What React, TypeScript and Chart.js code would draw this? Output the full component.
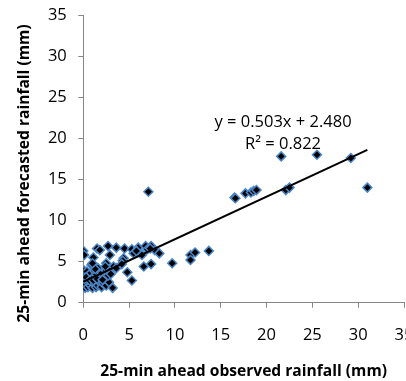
import React, { useEffect, useRef } from "react";
import { Chart, registerables } from "chart.js";

Chart.register(...registerables);

// ---- data ----
const observed = [
  0.0, 0.1, 0.2, 0.0, 0.3, 0.5, 0.6, 0.8, 1.0, 1.2, 1.4, 1.6, 1.8, 2.0, 2.2, 2.5, 2.8, 3.2,
  0.0, 0.2, 0.1, 0.4, 0.6, 0.8, 1.0, 1.2, 1.4, 1.6, 1.8, 2.0, 2.3, 2.5, 2.7, 3.0, 3.3, 3.6,
  0.9, 1.3, 0.5, 0.3, 0.7, 1.1, 1.5, 2.1,
  0.0, 0.1, 1.1, 1.5, 1.8, 2.7, 2.9, 3.6, 4.5, 4.4, 5.3, 5.5, 6.0, 6.4, 6.8, 7.0, 7.4, 7.8, 8.3, 7.3, 5.8,
  2.5, 1.0, 4.3, 4.2, 4.8, 5.3, 6.6, 7.4, 3.0, 2.4,
  7.1, 9.7, 11.7, 11.7, 12.2, 13.7, 16.5, 16.6, 17.7, 18.3, 18.6, 18.9, 21.6, 22.1, 22.5, 25.5, 29.2, 31.0,
];
const forecasted = [
  2.0, 2.3, 1.8, 2.6, 2.2, 1.9, 2.4, 2.1, 1.8, 2.3, 1.9, 2.1, 2.5, 1.9, 2.3, 2.1, 2.5, 1.8,
  3.0, 3.5, 3.9, 3.8, 3.2, 3.6, 3.0, 3.9, 3.4, 4.2, 3.1, 3.6, 3.0, 3.9, 3.3, 4.0, 4.4, 4.2,
  4.6, 4.1, 2.8, 3.1, 2.7, 2.7, 2.9, 2.8,
  6.3, 5.8, 5.5, 6.6, 6.4, 6.9, 5.8, 6.7, 6.6, 5.4, 6.5, 6.0, 6.7, 5.8, 6.9, 6.5, 6.9, 6.4, 6.0, 6.6, 6.3,
  4.8, 4.8, 5.1, 4.7, 3.7, 2.7, 4.4, 4.7, 3.5, 4.4,
  13.5, 4.8, 5.8, 5.2, 6.1, 6.3, 12.8, 12.7, 13.3, 13.4, 13.6, 13.7, 17.8, 13.7, 14.0, 18.0, 17.6, 14.0,
];
const trendX = [0, 31];
const trendY = [2.55, 18.6];
const axisMin = 0;
const axisMax = 35;
const axisStep = 5;
const equationLines = ["y = 0.503x + 2.480", "R² = 0.822"];
const equationAt = { x: 21.8, y: 22.0 };
const xTitle = "25-min ahead observed rainfall (mm)";
const yTitle = "25-min ahead forecasted rainfall (mm)";

const FONT = "'Open Sans', 'Liberation Sans', sans-serif";
const AXIS_GRAY = "#868686";

const overlayPlugin = {
  id: "overlayText",
  afterDraw(chart: any) {
    const { ctx, scales } = chart;
    const xs = scales.x;
    const ys = scales.y;
    ctx.save();
    ctx.fillStyle = "#000";
    ctx.font = `16.5px ${FONT}`;
    ctx.textAlign = "center";
    ctx.textBaseline = "middle";
    const px = xs.getPixelForValue(equationAt.x);
    const py = ys.getPixelForValue(equationAt.y);
    equationLines.forEach((t, i) => ctx.fillText(t, px, py + i * 22));
    // y title
    ctx.font = `bold 15.6px ${FONT}`;
    ctx.translate(25, 173.5);
    ctx.rotate(-Math.PI / 2);
    ctx.fillText(yTitle, 0, 0);
    ctx.restore();
  },
};

export default function App() {
  const ref = useRef<HTMLCanvasElement | null>(null);
  useEffect(() => {
    if (!ref.current) return;
    const points = observed.map((x, i) => ({ x, y: forecasted[i] }));
    const trend = trendX.map((x, i) => ({ x, y: trendY[i] }));
    const chart = new Chart(ref.current, {
      type: "scatter",
      data: {
        datasets: [
          {
            type: "line",
            data: trend,
            borderColor: "#000",
            borderWidth: 2,
            pointRadius: 0,
            fill: false,
            order: 0,
          } as any,
          {
            data: points,
            pointStyle: "rectRot",
            pointRadius: 4.5,
            pointBackgroundColor: "#000",
            pointBorderColor: "#4a86c8",
            pointBorderWidth: 1.5,
            order: 1,
          },
        ],
      },
      options: {
        animation: false,
        responsive: false,
        maintainAspectRatio: false,
        layout: { padding: 0 },
        plugins: { legend: { display: false }, tooltip: { enabled: false } },
        scales: {
          x: {
            type: "linear",
            min: axisMin,
            max: axisMax,
            ticks: { stepSize: axisStep, padding: 17.4, color: "#000", font: { family: FONT, size: 16.5 } },
            grid: { drawOnChartArea: false, drawTicks: true, tickLength: 5, color: AXIS_GRAY },
            border: { color: AXIS_GRAY, width: 1 },
            title: { display: true, text: xTitle, color: "#000", font: { family: FONT, size: 15.6, weight: "bold" }, padding: { top: 0, bottom: 0 } },
            afterFit(scale: any) {
              scale.height = 78.3;
              scale.paddingRight = 2.5;
              scale.paddingLeft = 0;
            },
          },
          y: {
            type: "linear",
            min: axisMin,
            max: axisMax,
            ticks: { stepSize: axisStep, padding: 11.5, color: "#000", font: { family: FONT, size: 16.5 } },
            grid: { drawOnChartArea: false, drawTicks: true, tickLength: 5, color: AXIS_GRAY },
            border: { color: AXIS_GRAY, width: 1 },
            afterFit(scale: any) {
              scale.width = 83.3;
              scale.paddingTop = 15;
              scale.paddingBottom = 0;
            },
          },
        },
      },
      plugins: [overlayPlugin],
    });
    return () => chart.destroy();
  }, []);
  return (
    <div style={{ position: "fixed", left: 0, top: 0, width: 406, height: 381, overflow: "hidden", background: "#fff" }}>
      <canvas ref={ref} width={410} height={381} style={{ width: 410, height: 381, display: "block" }} />
    </div>
  );
}
